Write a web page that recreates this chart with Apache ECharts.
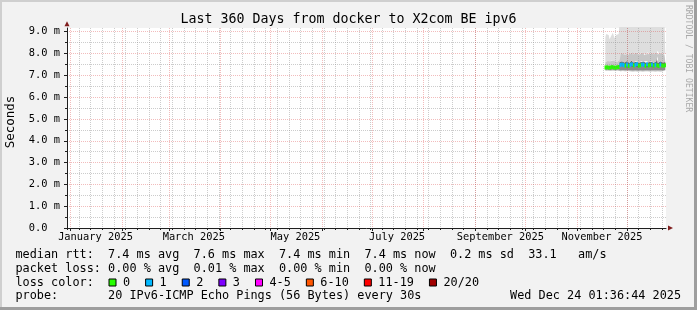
<!DOCTYPE html>
<html><head><meta charset="utf-8">
<script src="https://cdn.jsdelivr.net/npm/echarts@6/dist/echarts.min.js"></script>
<style>html,body{margin:0;padding:0;background:#f2f2f2}#c{width:697px;height:310px}</style>
</head><body><div id="c"></div>
<script>
const MONO = "'DejaVu Sans Mono', monospace";
const DAY = 86400000;
const ts = s => Date.parse(s + 'T00:00:00Z');

// ---- time extent of the graph (360 days ending Dec 24 2025) ----
const X_MIN = Date.UTC(2024, 11, 29, 21, 36);
const X_MAX = Date.UTC(2025, 11, 24, 9, 36);

// ---- data (one value per day) ----
const dates = ['2025-11-18','2025-11-19','2025-11-20','2025-11-21','2025-11-22','2025-11-23','2025-11-24','2025-11-25','2025-11-26',
  '2025-11-27','2025-11-28','2025-11-29','2025-11-30','2025-12-01','2025-12-02','2025-12-03','2025-12-04','2025-12-05','2025-12-06',
  '2025-12-07','2025-12-08','2025-12-09','2025-12-10','2025-12-11','2025-12-12','2025-12-13','2025-12-14','2025-12-15','2025-12-16',
  '2025-12-17','2025-12-18','2025-12-19','2025-12-20','2025-12-21','2025-12-22','2025-12-23','2025-12-24'];
const median = [7.36,7.37,7.35,7.36,7.38,7.36,7.35,7.37,7.38,
  7.48,7.50,7.47,7.44,7.50,7.43,7.49,7.51,7.45,7.48,7.52,7.44,7.46,7.50,7.49,7.43,7.51,7.45,7.47,7.50,7.44,7.49,7.46,7.43,7.50,7.45,7.44,7.46];
const loss = [0,0,0,0,0,0,0,0,0,
  1,1,1,0,1,0,1,1,0,1,1,0,0,1,1,0,1,0,0,1,0,1,0,0,1,0,0,0];
const smokeMin = [7.21,7.20,7.22,7.21,7.20,7.22,7.21,7.20,7.22,
  7.19,7.18,7.20,7.19,7.18,7.20,7.19,7.21,7.18,7.19,7.20,7.18,7.19,7.20,7.18,7.19,7.21,7.19,7.18,7.20,7.19,7.18,7.20,7.19,7.18,7.20,7.19,7.18];
const smokeP10 = [7.25,7.24,7.26,7.25,7.24,7.26,7.25,7.24,7.26,
  7.24,7.23,7.25,7.24,7.23,7.25,7.24,7.26,7.23,7.24,7.25,7.23,7.24,7.25,7.23,7.24,7.26,7.24,7.23,7.25,7.24,7.23,7.25,7.24,7.23,7.25,7.24,7.23];
const smokeP25 = [7.31,7.32,7.30,7.31,7.33,7.31,7.30,7.32,7.33,
  7.40,7.42,7.39,7.37,7.42,7.36,7.41,7.43,7.38,7.40,7.44,7.37,7.39,7.42,7.41,7.36,7.43,7.38,7.39,7.42,7.37,7.41,7.39,7.36,7.42,7.38,7.37,7.39];
const smokeP75 = [7.44,7.45,7.43,7.44,7.46,7.44,7.43,7.45,7.46,
  7.62,7.65,7.60,7.58,7.66,7.57,7.63,7.68,7.59,7.62,7.67,7.58,7.61,7.65,7.63,7.57,7.66,7.60,7.62,7.64,7.58,7.63,7.88,7.57,7.65,7.60,7.58,7.61];
const smokeP90 = [7.62,7.66,7.60,7.64,7.68,7.61,7.65,7.63,7.67,
  7.98,8.04,7.95,7.92,8.06,7.94,8.00,8.08,7.96,8.02,8.05,7.93,7.99,8.03,8.01,7.92,8.07,7.97,8.00,8.04,7.95,8.02,8.12,7.94,8.05,7.98,7.96,8.00];
const smokeMax = [8.75,8.90,8.85,8.65,8.80,8.95,8.70,8.85,8.90,
  9.40,9.50,9.35,9.60,9.45,9.50,9.40,9.55,9.30,9.45,9.50,9.60,9.40,9.35,9.50,9.45,9.55,9.40,9.50,9.60,9.35,9.45,9.50,9.40,9.55,9.45,9.50,9.40];

// ---- loss colour legend ----
const lossLabels = ['0','1','2','3','4-5','6-10','11-19','20/20'];
const lossUpper  = [0, 1, 2, 3, 5, 10, 19, 20];
const lossColors = ['#26ff00','#00b8ff','#0059ff','#7e00ff','#ff00ff','#ff5500','#ff0000','#a10000'];

// ---- axes ticks / labels ----
const monthStarts = ['2025-01-01','2025-02-01','2025-03-01','2025-04-01','2025-05-01','2025-06-01',
  '2025-07-01','2025-08-01','2025-09-01','2025-10-01','2025-11-01','2025-12-01'];
const monthLabelDates = ['2025-01-16','2025-03-16','2025-05-16','2025-07-16','2025-09-16','2025-11-16'];
const monthLabels = ['January 2025','March 2025','May 2025','July 2025','September 2025','November 2025'];
const yMajor = [0,1,2,3,4,5,6,7,8,9];
const yMinor = [0.5,1.5,2.5,3.5,4.5,5.5,6.5,7.5,8.5];
const yLabels = ['0.0  ','1.0 m','2.0 m','3.0 m','4.0 m','5.0 m','6.0 m','7.0 m','8.0 m','9.0 m'];

// ---- texts ----
const TITLE = 'Last 360 Days from docker to X2com BE ipv6';
const ROW1 = 'median rtt:  7.4 ms avg  7.6 ms max  7.4 ms min  7.4 ms now  0.2 ms sd  33.1   am/s';
const ROW2 = 'packet loss: 0.00 % avg  0.01 % max  0.00 % min  0.00 % now';
const ROW3 = 'loss color:';
const ROW4 = 'probe:       20 IPv6-ICMP Echo Pings (56 Bytes) every 30s';
const DATE_TXT = 'Wed Dec 24 01:36:44 2025';
const WATERMARK = 'RRDTOOL / TOBI OETIKER';
const YNAME = 'Seconds';

// weekly (Monday) grid positions
const weekTicks = [];
for (let t = Date.UTC(2024, 11, 30); t <= X_MAX; t += 7 * DAY) weekTicks.push(t);

const monthTs = monthStarts.map(ts);
const labelTs = monthLabelDates.map(ts);
const dayTs = dates.map(ts);

const GRID_C = 'rgba(143,143,143,0.45)';
const MGRID_C = 'rgba(222,79,79,0.38)';
const AXIS_C = '#1f1f1f';
const ARROW_C = '#801f1f';
const FS_AXIS = 10.35, FS_LEG = 11.83, FS_TITLE = 13.3, FS_WM = 8.1, FS_UNIT = 12.5;

function baseX(extra, type) {
  return Object.assign({type:type || 'value', gridIndex:0, min:X_MIN, max:X_MAX, position:'bottom',
    axisLine:{show:false, onZero:false}, axisTick:{show:false}, axisLabel:{show:false},
    splitLine:{show:false}, minorTick:{show:false}, minorSplitLine:{show:false}}, extra);
}
function baseY(extra) {
  return Object.assign({type:'value', gridIndex:0, min:0, max:9.17, position:'left',
    axisLine:{show:false, onZero:false}, axisTick:{show:false}, axisLabel:{show:false},
    splitLine:{show:false}, minorTick:{show:false}, minorSplitLine:{show:false}}, extra);
}

// smoke bands (stacked)
const bandTops = [smokeP10, smokeP25, smokeP75, smokeP90, smokeMax];
const bandBottoms = [smokeMin, smokeP10, smokeP25, smokeP75, smokeP90];
const bandColors = ['#b8b8b8', '#8a8a8a', '#6a6a6a', '#c6c6c6', '#dedede'];
const series = [];
series.push({type:'line', stack:'smoke', step:'middle', symbol:'none', silent:true, z:2,
  xAxisIndex:0, yAxisIndex:0, lineStyle:{opacity:0},
  data: dayTs.map((t,i)=>[t, smokeMin[i]])});
bandTops.forEach((top, b) => {
  series.push({type:'line', stack:'smoke', step:'middle', symbol:'none', silent:true, z:2,
    xAxisIndex:0, yAxisIndex:0, lineStyle:{opacity:0},
    areaStyle:{color:bandColors[b], opacity:1},
    data: dayTs.map((t,i)=>[t, +(top[i] - bandBottoms[b][i]).toFixed(4)])});
});

// median, coloured by loss
const MED_H = 4;
lossLabels.forEach((lab, b) => {
  const lo = b === 0 ? -1 : lossUpper[b-1];
  const data = [];
  dayTs.forEach((t,i) => { if (loss[i] > lo && loss[i] <= lossUpper[b]) data.push([t, median[i], loss[i]]); });
  series.push({type:'custom', name:lab, xAxisIndex:0, yAxisIndex:0, z:15, clip:true, silent:true,
    itemStyle:{color:lossColors[b]},
    data,
    renderItem(params, api) {
      const t = api.value(0), v = api.value(1);
      const a = api.coord([t - DAY/2, v]), c = api.coord([t + DAY/2, v]);
      return {type:'rect', shape:{x:a[0], y:a[1]-MED_H/2, width:c[0]-a[0], height:MED_H},
        style:{fill: api.visual('color')}};
    }});
});

const txt = (text, x, y, size, extra) => Object.assign({type:'text', x, y, silent:true, z:100,
  style:{text, fontFamily:MONO, fontSize:size, fill:'#000', align:'left', verticalAlign:'middle'}}, extra || {});

const option = {
  animation:false,
  backgroundColor:'#f2f2f2',
  grid:{left:67, top:28, width:599, height:200, show:true, backgroundColor:'#ffffff', borderWidth:0, containLabel:false, outerBoundsMode:'none'},
  xAxis:[
    baseX({z:1}, 'time'),
    baseX({z:10, axisTick:{show:true, customValues:weekTicks, length:2, lineStyle:{color:AXIS_C}},
      splitLine:{show:true, lineStyle:{color:GRID_C, width:1, type:[1,1]}}}),
    baseX({z:11, axisTick:{show:true, customValues:monthTs, length:3, lineStyle:{color:AXIS_C}},
      splitLine:{show:true, lineStyle:{color:MGRID_C, width:1, type:[1,1]}}}),
    baseX({z:12, axisLine:{show:true, onZero:false, lineStyle:{color:AXIS_C, width:1}},
      axisLabel:{show:true, customValues:labelTs, margin:4, fontFamily:MONO, fontSize:FS_AXIS, color:'#000',
        formatter:(v)=>{ const k = labelTs.indexOf(+v); return k >= 0 ? monthLabels[k] : ''; }}}),
    baseX({z:13, axisLine:{show:true, onZero:false, symbol:['none','triangle'], symbolSize:[5,5], symbolOffset:[0,4.5],
      lineStyle:{color:ARROW_C, opacity:0}}})
  ],
  yAxis:[
    baseY({z:11, axisTick:{show:true, customValues:yMajor, length:3, lineStyle:{color:AXIS_C}},
      axisLabel:{show:true, customValues:yMajor, margin:7, fontFamily:MONO, fontSize:FS_AXIS, color:'#000',
        formatter:(v)=>{ const k = yMajor.indexOf(Math.round(v*10)/10); return k >= 0 ? yLabels[k] : ''; }},
      splitLine:{show:true, lineStyle:{color:MGRID_C, width:1, type:[1,1]}}}),
    baseY({z:10, axisTick:{show:true, customValues:yMinor, length:2, lineStyle:{color:AXIS_C}},
      splitLine:{show:true, lineStyle:{color:GRID_C, width:1, type:[1,1]}}}),
    baseY({z:12, axisLine:{show:true, onZero:false, lineStyle:{color:AXIS_C, width:1}}}),
    baseY({z:13, axisLine:{show:true, onZero:false, symbol:['none','triangle'], symbolSize:[5,5], symbolOffset:[0,4.3],
      lineStyle:{color:ARROW_C, opacity:0}}})
  ],
  legend:{show:true, data:lossLabels, left:108.5, top:275.5, orient:'horizontal', padding:0,
    itemWidth:7, itemHeight:7, itemGap:15, icon:'rect', selectedMode:false,
    itemStyle:{borderColor:'#000', borderWidth:1},
    textStyle:{fontFamily:MONO, fontSize:FS_LEG, color:'#000', padding:[0,0,0,2], lineHeight:14}},
  series,
  graphic:[
    {type:'rect', silent:true, z:90, shape:{x:0,y:0,width:697,height:2}, style:{fill:'#cfcfcf'}},
    {type:'rect', silent:true, z:90, shape:{x:0,y:0,width:2,height:310}, style:{fill:'#cfcfcf'}},
    {type:'rect', silent:true, z:91, shape:{x:0,y:307,width:697,height:3}, style:{fill:'#9e9e9e'}},
    {type:'rect', silent:true, z:91, shape:{x:694,y:0,width:3,height:310}, style:{fill:'#9e9e9e'}},
    txt(TITLE, 348.5, 19.4, FS_TITLE, {style:{text:TITLE, fontFamily:MONO, fontSize:FS_TITLE, fill:'#000', align:'center', verticalAlign:'middle'}}),
    txt(YNAME, 10.5, 122, FS_UNIT, {rotation:Math.PI/2, style:{text:YNAME, fontFamily:MONO, fontSize:FS_UNIT, fill:'#000', align:'center', verticalAlign:'middle'}}),
    txt(WATERMARK, 688, 5, FS_WM, {rotation:-Math.PI/2, style:{text:WATERMARK, fontFamily:MONO, fontSize:FS_WM, fill:'#a8a8a8', align:'left', verticalAlign:'middle'}}),
    txt(ROW1, 15.5, 255, FS_LEG),
    txt(ROW2, 15.5, 268.8, FS_LEG),
    txt(ROW3, 15.5, 282.5, FS_LEG),
    txt(ROW4, 15.5, 296.3, FS_LEG),
    txt(DATE_TXT, 681, 296.3, FS_LEG, {style:{text:DATE_TXT, fontFamily:MONO, fontSize:FS_LEG, fill:'#000', align:'right', verticalAlign:'middle'}})
  ]
};
const chart = echarts.init(document.getElementById('c'), null, {renderer:'canvas'});
chart.setOption(option);
</script></body></html>
